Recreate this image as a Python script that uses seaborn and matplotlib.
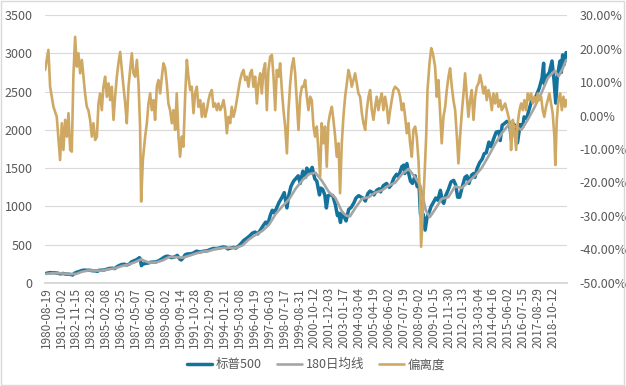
import pandas as pd
import matplotlib
matplotlib.use("Agg")
import matplotlib.pyplot as plt
import seaborn as sns
from matplotlib.ticker import FuncFormatter

# Dados (x em anos fracionários)
sp_anos = [1980.63, 1980.90, 1981.00, 1981.25, 1981.50, 1981.70, 1981.90, 1982.10, 1982.30, 1982.55,
           1982.62, 1982.75, 1982.90, 1983.10, 1983.30, 1983.50, 1983.70, 1983.90, 1984.10, 1984.30,
           1984.50, 1984.60, 1984.80, 1985.00, 1985.20, 1985.40, 1985.60, 1985.80, 1985.95, 1986.10,
           1986.30, 1986.50, 1986.70, 1986.90, 1987.05, 1987.25, 1987.45, 1987.65, 1987.70, 1987.80,
           1987.90, 1988.10, 1988.30, 1988.50, 1988.70, 1988.90, 1989.10, 1989.30, 1989.50, 1989.70,
           1989.90, 1990.05, 1990.30, 1990.50, 1990.70, 1990.80, 1990.95, 1991.10, 1991.30, 1991.50,
           1991.70, 1991.95, 1992.20, 1992.50, 1992.75, 1992.95, 1993.20, 1993.50, 1993.75, 1993.95,
           1994.15, 1994.30, 1994.50, 1994.75, 1994.90, 1995.10, 1995.30, 1995.50, 1995.70, 1995.95,
           1996.15, 1996.35, 1996.55, 1996.75, 1996.95, 1997.15, 1997.30, 1997.50, 1997.65, 1997.80,
           1997.95, 1998.15, 1998.35, 1998.55, 1998.65, 1998.75, 1998.90, 1999.05, 1999.25, 1999.45,
           1999.60, 1999.75, 1999.95, 2000.15, 2000.25, 2000.45, 2000.65, 2000.85, 2001.00, 2001.20,
           2001.30, 2001.45, 2001.60, 2001.72, 2001.85, 2002.00, 2002.20, 2002.40, 2002.55, 2002.65,
           2002.78, 2002.90, 2003.05, 2003.20, 2003.40, 2003.60, 2003.80, 2003.95, 2004.15, 2004.35,
           2004.55, 2004.65, 2004.85, 2005.00, 2005.20, 2005.30, 2005.50, 2005.70, 2005.80, 2006.00,
           2006.25, 2006.45, 2006.60, 2006.80, 2007.00, 2007.15, 2007.40, 2007.55, 2007.62, 2007.78,
           2007.90, 2008.05, 2008.20, 2008.40, 2008.55, 2008.70, 2008.80, 2008.90, 2009.00, 2009.15,
           2009.30, 2009.45, 2009.60, 2009.80, 2009.95, 2010.10, 2010.30, 2010.45, 2010.55, 2010.70,
           2010.90, 2011.10, 2011.30, 2011.45, 2011.60, 2011.75, 2011.95, 2012.15, 2012.30, 2012.45,
           2012.65, 2012.80, 2012.90, 2013.05, 2013.25, 2013.45, 2013.60, 2013.75, 2013.95, 2014.10,
           2014.30, 2014.50, 2014.70, 2014.80, 2014.95, 2015.10, 2015.30, 2015.50, 2015.63, 2015.80,
           2015.95, 2016.10, 2016.30, 2016.50, 2016.60, 2016.80, 2016.95, 2017.15, 2017.35, 2017.55,
           2017.75, 2017.95, 2018.07, 2018.12, 2018.30, 2018.50, 2018.70, 2018.85, 2018.98, 2019.10,
           2019.30, 2019.40, 2019.50, 2019.60, 2019.76]
sp500 = [125, 135, 133, 134, 128, 118, 124, 115, 115, 108,
         103, 125, 138, 148, 162, 168, 165, 166, 160, 158,
         152, 165, 166, 170, 180, 190, 192, 188, 210, 225,
         240, 245, 235, 247, 275, 290, 305, 330, 320, 225,
         245, 255, 260, 270, 272, 275, 290, 310, 335, 350,
         345, 330, 340, 360, 310, 300, 330, 370, 380, 380,
         390, 415, 405, 415, 420, 435, 450, 450, 460, 470,
         465, 445, 455, 465, 455, 480, 515, 555, 580, 615,
         650, 665, 640, 690, 745, 795, 760, 885, 950, 915,
         970, 1050, 1110, 1180, 1080, 980, 1150, 1260, 1330, 1370,
         1400, 1300, 1460, 1380, 1500, 1440, 1510, 1360, 1330, 1150,
         1240, 1220, 1150, 980, 1140, 1150, 1140, 1020, 880, 910,
         790, 920, 870, 810, 960, 990, 1050, 1110, 1140, 1120,
         1100, 1070, 1170, 1200, 1180, 1150, 1210, 1230, 1190, 1270,
         1300, 1250, 1280, 1370, 1420, 1390, 1520, 1540, 1430, 1560,
         1440, 1330, 1300, 1400, 1260, 1250, 900, 850, 900, 690,
         860, 920, 1000, 1060, 1110, 1080, 1210, 1070, 1040, 1140,
         1220, 1320, 1340, 1280, 1120, 1120, 1260, 1380, 1400, 1300,
         1410, 1430, 1380, 1490, 1570, 1620, 1690, 1700, 1840, 1780,
         1880, 1970, 1980, 1860, 2060, 2080, 2110, 2100, 1880, 2080,
         2040, 1830, 2070, 2040, 2170, 2150, 2250, 2370, 2390, 2460,
         2550, 2680, 2870, 2600, 2700, 2750, 2900, 2650, 2350, 2700,
         2900, 2750, 2980, 2850, 3010]

ma_anos = [1980.63, 1981.20, 1981.80, 1982.40, 1982.90, 1983.30, 1983.80, 1984.30, 1984.80, 1985.30,
           1985.80, 1986.30, 1986.80, 1987.30, 1987.80, 1988.00, 1988.40, 1988.90, 1989.40, 1989.90,
           1990.40, 1990.90, 1991.40, 1991.90, 1992.40, 1992.90, 1993.40, 1993.90, 1994.40, 1994.90,
           1995.40, 1995.90, 1996.40, 1996.90, 1997.40, 1997.90, 1998.40, 1998.90, 1999.40, 1999.90,
           2000.40, 2000.90, 2001.40, 2001.90, 2002.40, 2002.90, 2003.20, 2003.50, 2003.90, 2004.40,
           2004.90, 2005.40, 2005.90, 2006.40, 2006.90, 2007.40, 2007.90, 2008.40, 2008.80, 2009.20,
           2009.50, 2009.90, 2010.40, 2010.90, 2011.40, 2011.90, 2012.40, 2012.90, 2013.40, 2013.90,
           2014.40, 2014.90, 2015.40, 2015.90, 2016.40, 2016.90, 2017.40, 2017.90, 2018.40, 2018.90,
           2019.20, 2019.50, 2019.76]
ma180 = [118, 130, 125, 115, 118, 145, 163, 162, 160, 178,
         190, 220, 240, 270, 310, 290, 265, 268, 295, 340,
         338, 330, 355, 385, 408, 418, 445, 457, 460, 458,
         490, 570, 630, 680, 760, 900, 1000, 1090, 1230, 1340,
         1420, 1440, 1330, 1190, 1110, 930, 880, 870, 980, 1100,
         1120, 1180, 1210, 1270, 1310, 1420, 1490, 1380, 1270, 950,
         860, 960, 1100, 1120, 1260, 1240, 1320, 1400, 1500, 1650,
         1810, 1950, 2060, 2050, 2000, 2140, 2300, 2480, 2680, 2770,
         2700, 2800, 2910]

desvio_anos = [1980.55, 1980.80, 1980.93, 1981.18, 1981.43, 1981.68, 1981.81, 1981.93, 1982.06, 1982.19,
               1982.31, 1982.44, 1982.56, 1982.68, 1982.81, 1982.94, 1983.06, 1983.19, 1983.32, 1983.44,
               1983.56, 1983.69, 1983.81, 1983.94, 1984.07, 1984.19, 1984.32, 1984.45, 1984.57, 1984.69,
               1984.82, 1984.94, 1985.07, 1985.20, 1985.32, 1985.45, 1985.57, 1985.70, 1985.82, 1985.95,
               1986.07, 1986.20, 1986.33, 1986.45, 1986.58, 1986.70, 1986.83, 1986.95, 1987.08, 1987.20,
               1987.33, 1987.46, 1987.58, 1987.70, 1987.78, 1987.91, 1988.08, 1988.21, 1988.33, 1988.46,
               1988.58, 1988.71, 1988.83, 1988.96, 1989.08, 1989.21, 1989.34, 1989.46, 1989.59, 1989.71,
               1989.83, 1989.96,
               1990.09, 1990.21, 1990.34, 1990.46, 1990.59, 1990.71, 1990.84, 1990.96, 1991.09, 1991.22,
               1991.34, 1991.47, 1991.59, 1991.72, 1991.84, 1991.97, 1992.09, 1992.22, 1992.35, 1992.47,
               1992.60, 1992.72, 1992.85, 1992.97, 1993.10, 1993.22, 1993.35, 1993.48, 1993.60, 1993.73,
               1993.85, 1993.98, 1994.10, 1994.23, 1994.35, 1994.48, 1994.60, 1994.73, 1994.85, 1994.98,
               1995.10, 1995.23, 1995.36, 1995.48, 1995.61, 1995.73, 1995.86, 1995.98, 1996.11, 1996.23,
               1996.36, 1996.49, 1996.61, 1996.74, 1996.86, 1996.99, 1997.11, 1997.24, 1997.36, 1997.49,
               1997.62, 1997.74, 1997.87, 1997.99, 1998.12, 1998.24, 1998.37, 1998.49, 1998.62, 1998.75,
               1998.87, 1999.00, 1999.12, 1999.25, 1999.37, 1999.50, 1999.62, 1999.75, 1999.88,
               2000.00, 2000.12, 2000.25, 2000.37, 2000.50, 2000.62, 2000.75, 2000.87, 2001.00, 2001.12,
               2001.25, 2001.37, 2001.50, 2001.62, 2001.75, 2001.87, 2002.00, 2002.13, 2002.25, 2002.38,
               2002.50, 2002.63, 2002.75, 2002.88, 2003.00, 2003.13, 2003.26, 2003.38, 2003.51, 2003.63,
               2003.76, 2003.88, 2004.01, 2004.13, 2004.26, 2004.39, 2004.51, 2004.64, 2004.76, 2004.89,
               2005.01, 2005.14, 2005.26, 2005.39, 2005.51, 2005.64, 2005.76, 2005.89, 2006.01, 2006.14,
               2006.27, 2006.39, 2006.52, 2006.64, 2006.77, 2006.89, 2007.02, 2007.14, 2007.27, 2007.40,
               2007.52, 2007.65, 2007.77, 2007.90, 2008.02, 2008.15, 2008.27, 2008.40, 2008.52, 2008.65,
               2008.77, 2008.85, 2008.98, 2009.08, 2009.23, 2009.33, 2009.48, 2009.61, 2009.73,
               2009.90, 2010.03, 2010.15, 2010.28, 2010.40, 2010.53, 2010.66, 2010.78, 2010.91, 2011.03,
               2011.16, 2011.28, 2011.41, 2011.54, 2011.66, 2011.78, 2011.91, 2012.04, 2012.16, 2012.29,
               2012.41, 2012.54, 2012.66, 2012.79, 2012.92, 2013.04, 2013.17, 2013.29, 2013.42, 2013.54,
               2013.67, 2013.79, 2013.92, 2014.04, 2014.17, 2014.29, 2014.42, 2014.55, 2014.67, 2014.80,
               2014.92, 2015.05, 2015.17, 2015.30, 2015.43, 2015.55, 2015.62, 2015.75, 2015.87, 2016.00,
               2016.12, 2016.25, 2016.38, 2016.50, 2016.62, 2016.75, 2016.88, 2017.00, 2017.13, 2017.25,
               2017.38, 2017.50, 2017.63, 2017.75, 2017.88, 2018.00, 2018.12, 2018.25, 2018.38, 2018.50,
               2018.63, 2018.75, 2018.88, 2018.95, 2019.06, 2019.18, 2019.31, 2019.44, 2019.56, 2019.69,
               2019.76]
desvio = [13.6, 19.6, 8.6, 2.6, -0.4, -13.3, -2.3, -10.3, -1.3, -6.3,
          0.7, -10.3, -10.8, 11.6, 23.5, 14.6, 18.6, 12.6, 16.6, 11.6,
          6.6, 2.6, 1.6, -1.3, -6.3, -2.3, -7.3, -6.3, 3.6, 6.6,
          1.6, 8.6, 11.6, 5.6, 9.6, 4.6, 8.6, -1.3, 5.6, 11.6,
          15.6, 19.0, 13.6, 8.6, 3.6, -2.3, 8.6, 13.6, 18.6, 12.6,
          11.6, 16.6, 9.6, -3.3, -25.7, -13.3, -6.3, -2.3, 3.6, 6.6,
          1.6, 4.6, -1.3, 8.6, 10.6, 6.6, 11.6, 15.6, 14.1, 9.6,
          3.6, 1.6,
          -2.3, 1.6, -4.3, 6.6, -6.3, -12.3, -6.3, -9.3, 5.6, 16.6,
          11.6, 7.6, 8.6, 0.7, 6.6, 8.6, 2.6, 4.6, -0.4, 3.6,
          -0.4, 1.6, 4.6, 6.6, 7.6, 2.6, 3.6, 1.6, 3.6, 1.6,
          2.6, 4.6, 1.6, -5.3, -0.4, -2.3, 2.6, -0.4, 1.6, 4.6,
          7.6, 10.6, 12.6, 13.6, 10.6, 11.6, 8.6, 12.6, 13.6, 8.6,
          11.6, 3.6, 9.6, 12.6, 6.6, 13.6, 15.6, 1.6, 13.6, 17.6,
          18.1, 11.6, 1.6, 13.6, 11.6, 15.6, 7.6, 1.6, -3.3, -11.3,
          1.6, 9.6, 14.6, 17.1, 12.6, 3.6, -4.3, 5.6, 8.6,
          8.6, 10.6, 5.6, 1.6, 5.6, 4.6, -3.3, -6.3, -3.3, -10.3,
          -18.3, -2.3, -8.3, -3.3, -15.3, -2.3, 0.7, 2.6, -1.3, -6.3,
          -12.3, -8.3, -23.2, -8.3, -0.4, 5.6, 9.6, 13.6, 11.6, 8.6,
          10.6, 12.6, 9.6, 6.6, 5.6, 0.7, -2.3, -4.3, 1.6, 5.6,
          7.6, 1.6, -1.3, 2.6, 5.6, 1.6, 4.6, 6.6, 1.6, 5.6,
          2.6, -2.3, 1.6, 4.6, 7.6, 8.6, 8.1, 7.6, 5.6, 1.6,
          3.6, -0.4, -5.3, -2.3, -8.3, -12.3, -4.3, -3.3, -6.3, -13.3,
          -24.2, -39.2, -28.2, -20.2, -6.3, 7.6, 15.6, 20.1, 18.6,
          14.6, 5.6, 10.6, 0.7, -8.3, -0.4, 2.6, 7.6, 11.6, 14.1,
          8.6, 4.6, 1.6, -6.3, -14.3, -6.3, 0.7, 6.6, 12.6, 5.6,
          -0.4, 4.6, 7.6, -1.3, 5.6, 8.6, 9.6, 12.1, 9.6, 6.6,
          8.6, 4.6, 7.6, 5.6, 1.6, 6.6, 3.6, 6.6, 2.6, 4.6,
          1.6, 2.6, 3.6, 1.6, -0.4, -3.3, -10.3, -1.3, -4.3, -10.3,
          -2.3, 1.6, 3.6, 1.6, 4.6, 1.6, 6.6, 4.6, 6.6, 3.6,
          5.6, 3.6, 6.6, 4.6, 5.6, 1.6, -0.4, 2.6, 4.6, 6.6,
          3.6, 0.7, -6.3, -14.8, -1.3, 4.6, 6.6, 1.6, 5.6, 2.6,
          4.6]

rotulos_x = ['1980-08-19', '1981-10-02', '1982-11-15', '1983-12-28', '1985-02-08', '1986-03-25',
             '1987-05-07', '1988-06-20', '1989-08-02', '1990-09-14', '1991-10-28', '1992-12-09',
             '1994-01-21', '1995-03-08', '1996-04-19', '1997-06-03', '1998-07-17', '1999-08-31',
             '2000-10-12', '2001-12-03', '2003-01-17', '2004-03-04', '2005-04-19', '2006-06-02',
             '2007-07-19', '2008-09-02', '2009-10-15', '2010-11-30', '2012-01-13', '2013-03-04',
             '2014-04-16', '2015-06-02', '2016-07-15', '2017-08-29', '2018-10-12']

azul = '#14739c'
cinza = '#a5a5a5'
dourado = '#cfa964'
cor_texto = '#595959'

sns.set_theme(style='white')
plt.rcParams['font.family'] = ['Noto Sans CJK SC', 'DejaVu Sans']


def ano_fracionario(s):
    d = pd.Timestamp(s)
    return d.year + (d.dayofyear - 1) / 365.25


df_sp = pd.DataFrame({'ano': sp_anos, 'valor': sp500})
df_ma = pd.DataFrame({'ano': ma_anos, 'valor': ma180})
df_dv = pd.DataFrame({'ano': desvio_anos, 'valor': desvio})

fig = plt.figure(figsize=(6.26, 3.86), dpi=100)
ax = fig.add_axes([0.072, 0.267, 0.834, 0.694])
ax2 = ax.twinx()

# eixo secundário (偏离度) fica por cima, como no original
sns.lineplot(data=df_sp, x='ano', y='valor', ax=ax, color=azul, linewidth=2.5, label='标普500', legend=False)
sns.lineplot(data=df_ma, x='ano', y='valor', ax=ax, color=cinza, linewidth=1.9, label='180日均线', legend=False)
sns.lineplot(data=df_dv, x='ano', y='valor', ax=ax2, color=dourado, linewidth=1.9, label='偏离度', legend=False)

ax.set_xlim(1980.55, 2019.84)
ax.set_ylim(0, 3500)
ax.set_yticks(range(0, 3501, 500))
ax2.set_ylim(-50, 30)
ax2.set_yticks(range(-50, 31, 10))
ax2.yaxis.set_major_formatter(FuncFormatter(lambda v, p: f'{v:.2f}%'))

ax.set_xticks([ano_fracionario(r) for r in rotulos_x])
ax.set_xticklabels(rotulos_x, rotation=90)
ax.set_xlabel('')
ax.set_ylabel('')
ax2.set_ylabel('')

ax.grid(axis='y', color='#d9d9d9', linewidth=0.8)
ax.grid(axis='x', visible=False)
ax2.grid(False)
for a in (ax, ax2):
    for lado in ('top', 'left', 'right'):
        a.spines[lado].set_visible(False)
    a.spines['bottom'].set_color('#d9d9d9')
    a.tick_params(length=0, labelsize=9, colors=cor_texto, pad=9)
ax.tick_params(axis='x', labelsize=8.5, pad=3)

linhas = ax.get_lines() + ax2.get_lines()
fig.legend(linhas, ['标普500', '180日均线', '偏离度'], loc='center', bbox_to_anchor=(0.505, 0.055),
           ncol=3, frameon=False, fontsize=9, handlelength=2.0, handletextpad=0.3,
           columnspacing=1.2, labelcolor=cor_texto)

fig.patches.append(plt.Rectangle((0.002, 0.003), 0.995, 0.994, transform=fig.transFigure,
                                 fill=False, edgecolor='#d9d9d9', linewidth=1))

fig.savefig('out.png', dpi=100)
